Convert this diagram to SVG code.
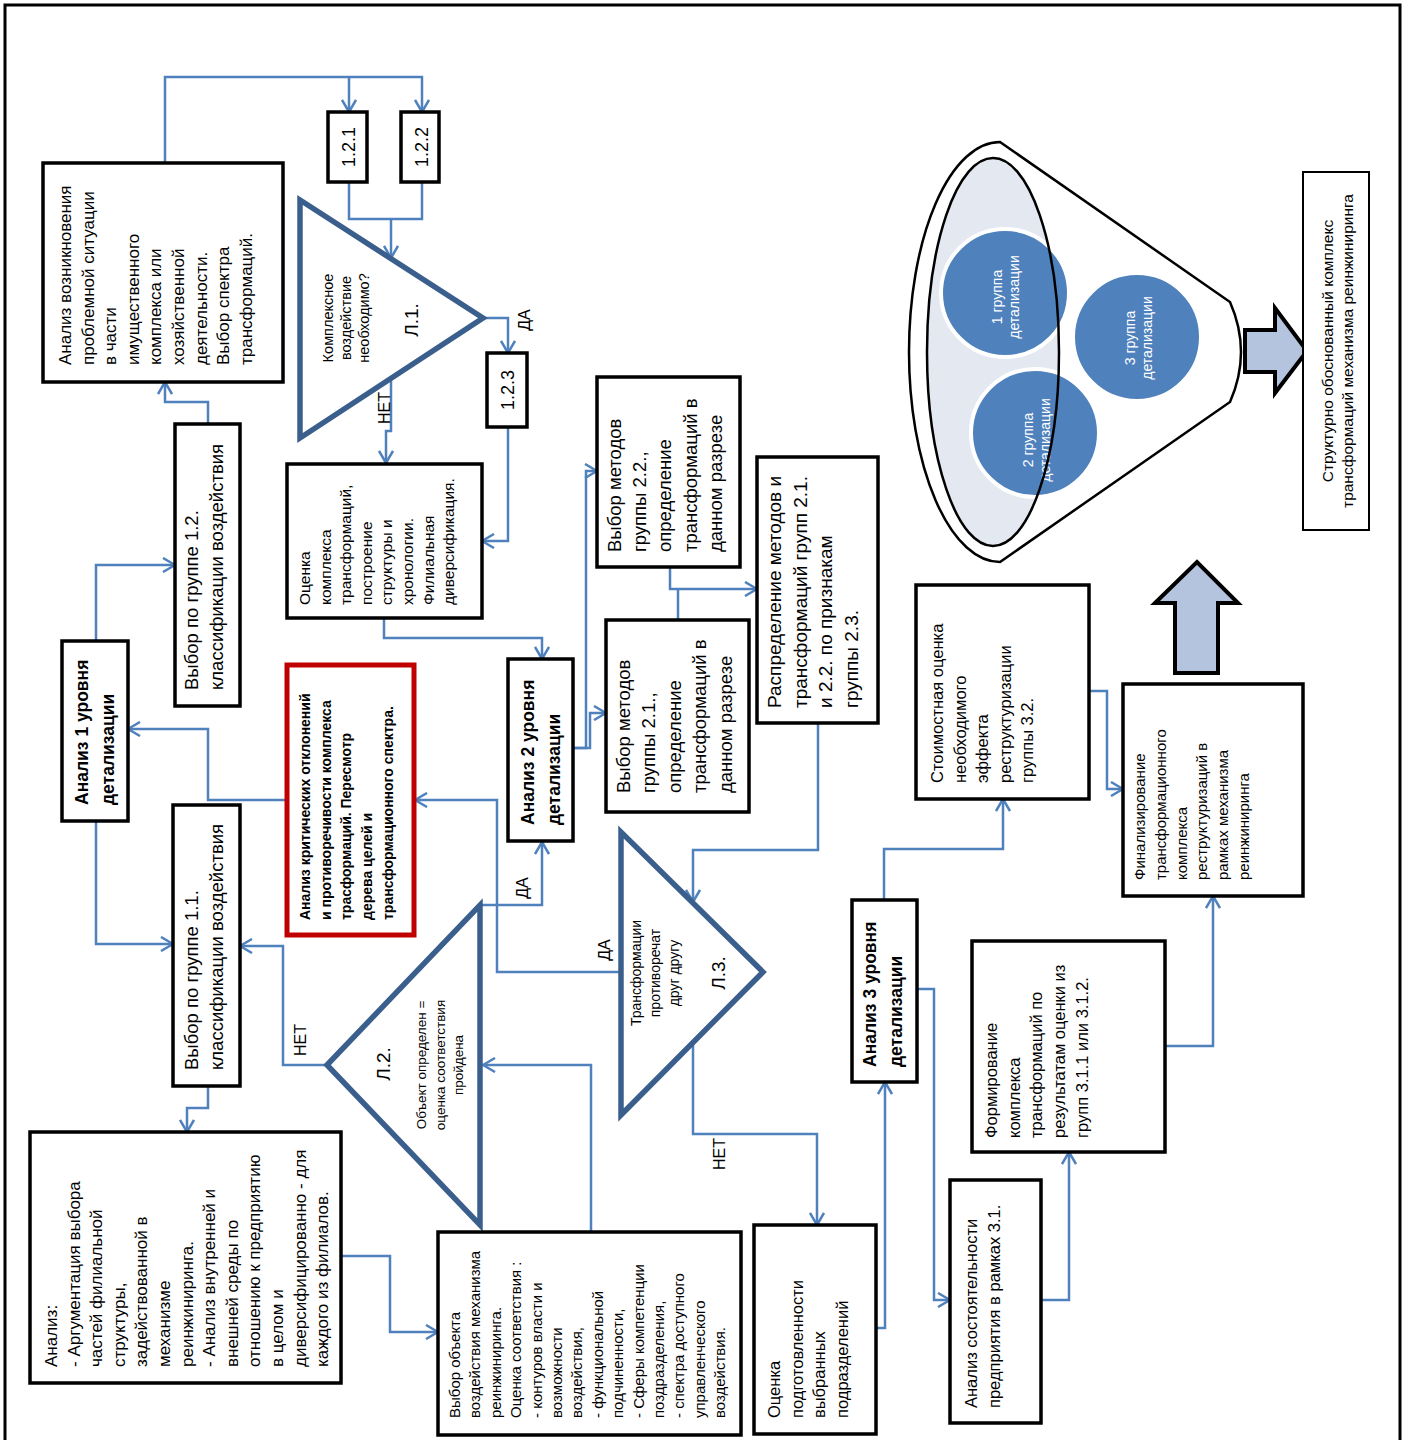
<svg xmlns="http://www.w3.org/2000/svg" width="1406" height="1440" viewBox="0 0 1406 1440">
<defs>
<style>
.box{fill:#fff;stroke:#000;stroke-width:3.5}
.thin{fill:#fff;stroke:#000;stroke-width:2}
.red{fill:#fff;stroke:#C00000;stroke-width:5}
.dec{fill:#fff;stroke:#3B5F8C;stroke-width:5.5;stroke-linejoin:miter;stroke-miterlimit:10}
.con{fill:none;stroke:#4F81BD;stroke-width:2.5}
.arr{marker-end:url(#ah)}
.t{font-family:"Liberation Sans",Arial,sans-serif;fill:#000}
.b{font-weight:bold}
.w{fill:#fff}
.blk{fill:#B4C4DF;stroke:#000;stroke-width:4;stroke-linejoin:miter}
.circ{fill:#4F81BD;stroke:#fff;stroke-width:4}
</style>
<marker id="ah" viewBox="0 0 14 16" refX="13" refY="8" markerWidth="14" markerHeight="16" markerUnits="userSpaceOnUse" orient="auto">
<path d="M1,1 L13,8 L1,15" fill="none" stroke="#4F81BD" stroke-width="2.5"/>
</marker>
</defs>
<rect x="0" y="0" width="1406" height="1440" fill="#fff"/>
<!-- page frame -->
<rect x="5" y="5" width="1395" height="1450" fill="none" stroke="#000" stroke-width="3"/>

<!-- connectors -->
<g id="connectors">
<path class="con arr" d="M165,163 V77 H422 V112"/>
<path class="con arr" d="M349,77 V112"/>
<path class="con" d="M349,182 V219 H422 V182"/>
<path class="con arr" d="M391,219 V258"/>
<path class="con arr" d="M483,318 H508 V353"/>
<path class="con arr" d="M391,378 V431 H386 V463"/>
<path class="con arr" d="M508,427 V541 H482"/>
<path class="con arr" d="M384,618 V638 H542 V659"/>
<path class="con arr" d="M573,748 H586 V471 H597"/>
<path class="con arr" d="M573,748 H590 V713 H606"/>
<path class="con arr" d="M670,567 V589 H757"/>
<path class="con" d="M678,620 V589"/>
<path class="con arr" d="M818,723 V850 H693 V902"/>
<path class="con arr" d="M621,972 H497 V800 H415"/>
<path class="con arr" d="M693,1043 V1134 H817 V1225"/>
<path class="con arr" d="M480,905 H542 V842"/>
<path class="con arr" d="M327,1065 H283 V946 H240"/>
<path class="con arr" d="M591,1232 V1065 H483"/>
<path class="con arr" d="M341,1256 H390 V1332 H438"/>
<path class="con arr" d="M208,1086 V1108 H187 V1132"/>
<path class="con arr" d="M96,821 V944 H173"/>
<path class="con arr" d="M96,641 V565 H175"/>
<path class="con arr" d="M208,424 V402 H165 V382"/>
<path class="con arr" d="M287,800 H208 V729 H128"/>
<path class="con arr" d="M876,1328 H885 V1082"/>
<path class="con arr" d="M884,900 V849 H1003 V799"/>
<path class="con arr" d="M917,989 H934 V1300 H950"/>
<path class="con arr" d="M1041,1300 H1069 V1152"/>
<path class="con arr" d="M1165,1046 H1213 V896"/>
<path class="con arr" d="M1089,691 H1107 V789 H1123"/>
<!-- branch labels -->
<text class="t" font-size="16" text-anchor="middle" transform="translate(530,320) rotate(-90)">ДА</text>
<text class="t" font-size="16" text-anchor="middle" transform="translate(390,408) rotate(-90)">НЕТ</text>
<text class="t" font-size="16" text-anchor="middle" transform="translate(306,1040) rotate(-90)">НЕТ</text>
<text class="t" font-size="16" text-anchor="middle" transform="translate(528,888) rotate(-90)">ДА</text>
<text class="t" font-size="16" text-anchor="middle" transform="translate(610,950) rotate(-90)">ДА</text>
<text class="t" font-size="16" text-anchor="middle" transform="translate(725,1154) rotate(-90)">НЕТ</text>
</g>

<g id="n-analiz-vozn">
<rect class="box" x="43" y="163" width="240" height="219"/>
<text class="t" font-size="17" transform="translate(71,365) rotate(-90)"><tspan x="0" y="0">Анализ возникновения</tspan><tspan x="0" dy="22.6">проблемной ситуации</tspan><tspan x="0" dy="22.6">в части</tspan><tspan x="0" dy="22.6">имущественного</tspan><tspan x="0" dy="22.6">комплекса или</tspan><tspan x="0" dy="22.6">хозяйственной</tspan><tspan x="0" dy="22.6">деятельности.</tspan><tspan x="0" dy="22.6">Выбор спектра</tspan><tspan x="0" dy="22.6">трансформаций.</tspan></text>
</g>

<g id="n-121">
<rect class="box" x="328" y="112" width="39" height="70"/>
<text class="t" font-size="18" text-anchor="middle" transform="translate(355,147) rotate(-90)">1.2.1</text>
</g>
<g id="n-122">
<rect class="box" x="401" y="112" width="38" height="70"/>
<text class="t" font-size="18" text-anchor="middle" transform="translate(428,147) rotate(-90)">1.2.2</text>
</g>
<g id="n-123">
<rect class="box" x="487" y="353" width="40" height="74"/>
<text class="t" font-size="18" text-anchor="middle" transform="translate(514,390) rotate(-90)">1.2.3</text>
</g>

<g id="n-l1">
<polygon class="dec" points="300,200 300,438 483,318"/>
<text class="t" font-size="14.5" text-anchor="middle" transform="translate(333,318) rotate(-90)"><tspan x="0" y="0">Комплексное</tspan><tspan x="0" dy="18">воздействие</tspan><tspan x="0" dy="18">необходимо?</tspan></text>
<text class="t" font-size="19" text-anchor="middle" transform="translate(418,320) rotate(-90)">Л.1.</text>
</g>

<g id="n-ocenka">
<rect class="box" x="287" y="464" width="195" height="154"/>
<text class="t" font-size="15.5" transform="translate(310,605) rotate(-90)"><tspan x="0" y="0">Оценка</tspan><tspan x="0" dy="20.6">комплекса</tspan><tspan x="0" dy="20.6">трансформаций,</tspan><tspan x="0" dy="20.6">построение</tspan><tspan x="0" dy="20.6">структуры и</tspan><tspan x="0" dy="20.6">хронологии.</tspan><tspan x="0" dy="20.6">Филиальная</tspan><tspan x="0" dy="20.6">диверсификация.</tspan></text>
</g>

<g id="n-vybor22">
<rect class="box" x="597" y="377" width="143" height="190"/>
<text class="t" font-size="18.5" transform="translate(621,552) rotate(-90)"><tspan x="0" y="0">Выбор методов</tspan><tspan x="0" dy="25.2">группы 2.2.,</tspan><tspan x="0" dy="25.2">определение</tspan><tspan x="0" dy="25.2">трансформаций в</tspan><tspan x="0" dy="25.2">данном разрезе</tspan></text>
</g>

<g id="n-vybor21">
<rect class="box" x="606" y="620" width="143" height="192"/>
<text class="t" font-size="18.5" transform="translate(630,793) rotate(-90)"><tspan x="0" y="0">Выбор методов</tspan><tspan x="0" dy="25.4">группы 2.1.,</tspan><tspan x="0" dy="25.4">определение</tspan><tspan x="0" dy="25.4">трансформаций в</tspan><tspan x="0" dy="25.4">данном разрезе</tspan></text>
</g>

<g id="n-raspr">
<rect class="box" x="757" y="457" width="121" height="266"/>
<text class="t" font-size="19" transform="translate(781,708) rotate(-90)"><tspan x="0" y="0">Распределение методов и</tspan><tspan x="0" dy="25.7">трансформаций групп 2.1.</tspan><tspan x="0" dy="25.7">и 2.2. по признакам</tspan><tspan x="0" dy="25.7">группы 2.3.</tspan></text>
</g>

<g id="n-analiz2">
<rect class="box" x="508" y="659" width="65" height="182"/>
<text class="t b" font-size="17.5" transform="translate(534,825) rotate(-90)"><tspan x="0" y="0">Анализ 2 уровня</tspan><tspan x="0" dy="26">детализации</tspan></text>
</g>

<g id="n-red">
<rect class="red" x="287" y="665" width="127" height="270"/>
<text class="t b" font-size="14" transform="translate(310,920) rotate(-90)"><tspan x="0" y="0">Анализ критических отклонений</tspan><tspan x="0" dy="20.7">и противоречивости комплекса</tspan><tspan x="0" dy="20.7">трасформаций. Пересмотр</tspan><tspan x="0" dy="20.7">дерева целей и</tspan><tspan x="0" dy="20.7">трансформационного спектра.</tspan></text>
</g>

<g id="n-analiz1">
<rect class="box" x="62" y="641" width="66" height="180"/>
<text class="t b" font-size="17.5" transform="translate(88,805) rotate(-90)"><tspan x="0" y="0">Анализ 1 уровня</tspan><tspan x="0" dy="26">детализации</tspan></text>
</g>

<g id="n-vybor12">
<rect class="box" x="175" y="424" width="65" height="282"/>
<text class="t" font-size="18.5" transform="translate(198,690) rotate(-90)"><tspan x="0" y="0">Выбор по группе 1.2.</tspan><tspan x="0" dy="25">классификации воздействия</tspan></text>
</g>

<g id="n-vybor11">
<rect class="box" x="173" y="805" width="67" height="281"/>
<text class="t" font-size="18.5" transform="translate(198,1070) rotate(-90)"><tspan x="0" y="0">Выбор по группе 1.1.</tspan><tspan x="0" dy="25">классификации воздействия</tspan></text>
</g>

<g id="n-l2">
<polygon class="dec" points="327,1065 480,905 480,1225"/>
<text class="t" font-size="13.5" text-anchor="middle" transform="translate(426,1065) rotate(-90)"><tspan x="0" y="0">Объект определен =</tspan><tspan x="0" dy="18.5">оценка соответствия</tspan><tspan x="0" dy="18.5">пройдена</tspan></text>
<text class="t" font-size="19" text-anchor="middle" transform="translate(390,1064) rotate(-90)">Л.2.</text>
</g>

<g id="n-l3">
<polygon class="dec" points="621,832 621,1115 763,972"/>
<text class="t" font-size="14" text-anchor="middle" transform="translate(641,973) rotate(-90)"><tspan x="0" y="0">Трансформации</tspan><tspan x="0" dy="19">противоречат</tspan><tspan x="0" dy="19">друг другу</tspan></text>
<text class="t" font-size="19" text-anchor="middle" transform="translate(725,973) rotate(-90)">Л.3.</text>
</g>

<g id="n-analiz-left">
<rect class="box" x="30" y="1132" width="311" height="251"/>
<text class="t" font-size="17" transform="translate(57,1367) rotate(-90)"><tspan x="0" y="0">Анализ:</tspan><tspan x="0" dy="22.6">- Аргументация выбора</tspan><tspan x="0" dy="22.6">частей филиальной</tspan><tspan x="0" dy="22.6">структуры,</tspan><tspan x="0" dy="22.6">задействованной в</tspan><tspan x="0" dy="22.6">механизме</tspan><tspan x="0" dy="22.6">реинжиниринга.</tspan><tspan x="0" dy="22.6">- Анализ внутренней и</tspan><tspan x="0" dy="22.6">внешней среды по</tspan><tspan x="0" dy="22.6">отношению к предприятию</tspan><tspan x="0" dy="22.6">в целом и</tspan><tspan x="0" dy="22.6">диверсифицированно - для</tspan><tspan x="0" dy="22.6">каждого из филиалов.</tspan></text>
</g>

<g id="n-vybor-obj">
<rect class="box" x="438" y="1232" width="303" height="203"/>
<text class="t" font-size="15" transform="translate(460,1418) rotate(-90)"><tspan x="0" y="0">Выбор объекта</tspan><tspan x="0" dy="20.4">воздействия механизма</tspan><tspan x="0" dy="20.4">реинжиниринга.</tspan><tspan x="0" dy="20.4">Оценка соответствия :</tspan><tspan x="0" dy="20.4">- контуров власти и</tspan><tspan x="0" dy="20.4">возможности</tspan><tspan x="0" dy="20.4">воздействия,</tspan><tspan x="0" dy="20.4">- функциональной</tspan><tspan x="0" dy="20.4">подчиненности,</tspan><tspan x="0" dy="20.4">- Сферы компетенции</tspan><tspan x="0" dy="20.4">поздразделения,</tspan><tspan x="0" dy="20.4">- спектра доступного</tspan><tspan x="0" dy="20.4">управленческого</tspan><tspan x="0" dy="20.4">воздействия.</tspan></text>
</g>

<g id="n-ocenka-podg">
<rect class="box" x="754" y="1225" width="122" height="209"/>
<text class="t" font-size="16.5" transform="translate(780,1418) rotate(-90)"><tspan x="0" y="0">Оценка</tspan><tspan x="0" dy="22.5">подготовленности</tspan><tspan x="0" dy="22.5">выбранных</tspan><tspan x="0" dy="22.5">подразделений</tspan></text>
</g>

<g id="n-analiz3">
<rect class="box" x="852" y="900" width="65" height="182"/>
<text class="t b" font-size="17.5" transform="translate(876,1067) rotate(-90)"><tspan x="0" y="0">Анализ 3 уровня</tspan><tspan x="0" dy="26">детализации</tspan></text>
</g>

<g id="n-sost">
<rect class="box" x="950" y="1180" width="91" height="243"/>
<text class="t" font-size="16.5" transform="translate(977,1408) rotate(-90)"><tspan x="0" y="0">Анализ состоятельности</tspan><tspan x="0" dy="23">предприятия в рамках 3.1.</tspan></text>
</g>

<g id="n-form">
<rect class="box" x="972" y="941" width="193" height="211"/>
<text class="t" font-size="16.5" transform="translate(997,1138) rotate(-90)"><tspan x="0" y="0">Формирование</tspan><tspan x="0" dy="22.7">комплекса</tspan><tspan x="0" dy="22.7">трансформаций по</tspan><tspan x="0" dy="22.7">результатам оценки из</tspan><tspan x="0" dy="22.7">групп 3.1.1 или 3.1.2.</tspan></text>
</g>

<g id="n-stoim">
<rect class="box" x="916" y="585" width="173" height="214"/>
<text class="t" font-size="16.5" transform="translate(943,783) rotate(-90)"><tspan x="0" y="0">Стоимостная оценка</tspan><tspan x="0" dy="22.6">необходимого</tspan><tspan x="0" dy="22.6">эффекта</tspan><tspan x="0" dy="22.6">реструктуризации</tspan><tspan x="0" dy="22.6">группы 3.2.</tspan></text>
</g>

<g id="n-final">
<rect class="box" x="1123" y="684" width="180" height="212"/>
<text class="t" font-size="15" transform="translate(1145,880) rotate(-90)"><tspan x="0" y="0">Финализирование</tspan><tspan x="0" dy="20.8">трансформационного</tspan><tspan x="0" dy="20.8">комплекса</tspan><tspan x="0" dy="20.8">реструктуризаций в</tspan><tspan x="0" dy="20.8">рамках механизма</tspan><tspan x="0" dy="20.8">реинжиниринга</tspan></text>
</g>

<g id="n-funnel">
<path d="M1000,142 L1230,302 Q1252,352 1230,402 L1000,562 A91,210 0 0 1 1000,142 Z" fill="#fff" stroke="#000" stroke-width="2.5"/>
<ellipse cx="993" cy="352" rx="66" ry="194" fill="#E3E8F1"/>
<circle class="circ" cx="1005" cy="293" r="64"/>
<circle class="circ" cx="1035" cy="433" r="64"/>
<circle class="circ" cx="1137" cy="337" r="64"/>
<text class="t w" font-size="14" text-anchor="middle" transform="translate(1002,297) rotate(-90)"><tspan x="0" y="0">1 группа</tspan><tspan x="0" dy="16.5">детализации</tspan></text>
<text class="t w" font-size="14" text-anchor="middle" transform="translate(1033,440) rotate(-90)"><tspan x="0" y="0">2 группа</tspan><tspan x="0" dy="16.5">детализации</tspan></text>
<text class="t w" font-size="14" text-anchor="middle" transform="translate(1135,338) rotate(-90)"><tspan x="0" y="0">3 группа</tspan><tspan x="0" dy="16.5">детализации</tspan></text>
<ellipse cx="993" cy="352" rx="66" ry="194" fill="none" stroke="#000" stroke-width="2.5"/>
</g>

<g id="n-arrow-right">
<polygon class="blk" points="1245,330 1275,330 1275,308 1307,351 1275,393 1275,372 1245,372"/>
</g>
<g id="n-arrow-up">
<polygon class="blk" points="1175,673 1175,603 1155,603 1197,562 1238,603 1218,603 1218,673"/>
</g>

<g id="n-result">
<rect class="thin" x="1303" y="172" width="66" height="358"/>
<text class="t" font-size="15.5" text-anchor="middle" transform="translate(1333,351) rotate(-90)"><tspan x="0" y="0">Структурно обоснованный  комплекс</tspan><tspan x="0" dy="20">трансформаций механизма  реинжиниринга</tspan></text>
</g>
</svg>
